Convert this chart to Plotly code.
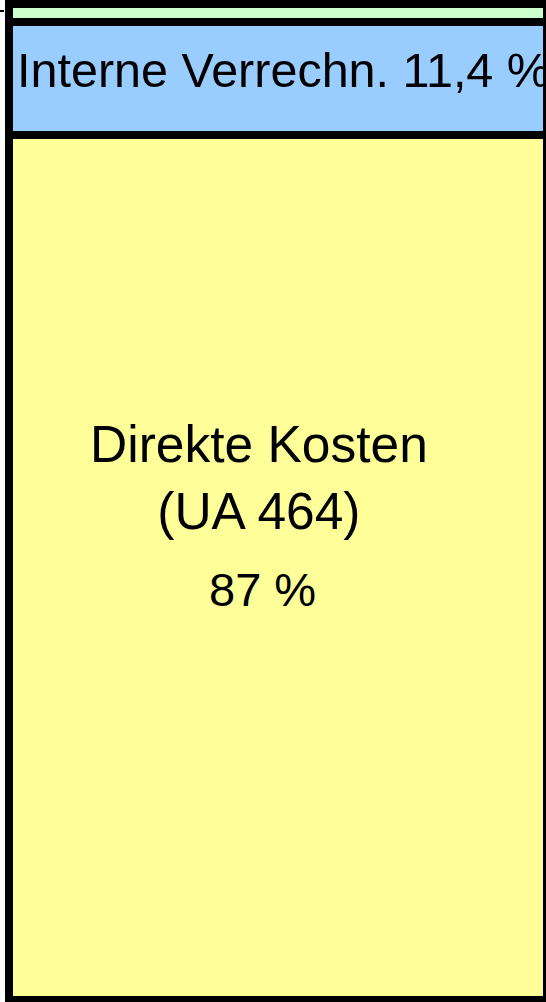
import plotly.graph_objects as go

categories = ["Kosten"]
segments = ["Direkte Kosten (UA 464)", "Interne Verrechn.", "Sonstige"]
values = [87.0, 11.4, 1.8]
colors = ["#FFFF99", "#99CCFF", "#CCFFCC"]

fig = go.Figure()
for name, v, c in zip(segments, values, colors):
    fig.add_trace(go.Bar(
        x=[0], y=[v], name=name, width=1,
        marker=dict(color=c, line=dict(color="black", width=8)),
        hoverinfo="skip", showlegend=False,
    ))

W, H = 546, 1002
L = 5
PW = W - L

def px(xp):
    return (xp - L) / PW

def py(yp):
    return 1 - yp / H

font = "Liberation Sans, Arial, sans-serif"
fig.add_annotation(text="Interne Verrechn. 11,4 %", xref="paper", yref="paper",
                   x=px(283), y=py(70), xanchor="center", yanchor="middle",
                   showarrow=False, font=dict(family=font, size=48.5, color="black"))
fig.add_annotation(text="Direkte Kosten<br>(UA 464)", xref="paper", yref="paper",
                   x=px(259), y=py(477), xanchor="center", yanchor="middle",
                   showarrow=False, font=dict(family=font, size=51.5, color="black"))
fig.add_annotation(text="87 %", xref="paper", yref="paper",
                   x=px(262), y=py(589), xanchor="center", yanchor="middle",
                   showarrow=False, font=dict(family=font, size=47, color="black"))

fig.update_layout(
    width=W, height=H, barmode="stack",
    margin=dict(l=L, r=0, t=0, b=0),
    paper_bgcolor="white", plot_bgcolor="white",
    xaxis=dict(range=[-0.5065, 0.49814], visible=False, fixedrange=True),
    yaxis=dict(range=[-0.201, 100.57], showgrid=False, zeroline=False,
               showline=False, showticklabels=False, ticks="outside",
               ticklen=5, tickwidth=1.5, tickcolor="black", tickvals=[99.46]),
)
fig.write_html("out.html", config={"displayModeBar": False},
               post_script="document.body.style.margin='0';document.body.style.padding='0';")
